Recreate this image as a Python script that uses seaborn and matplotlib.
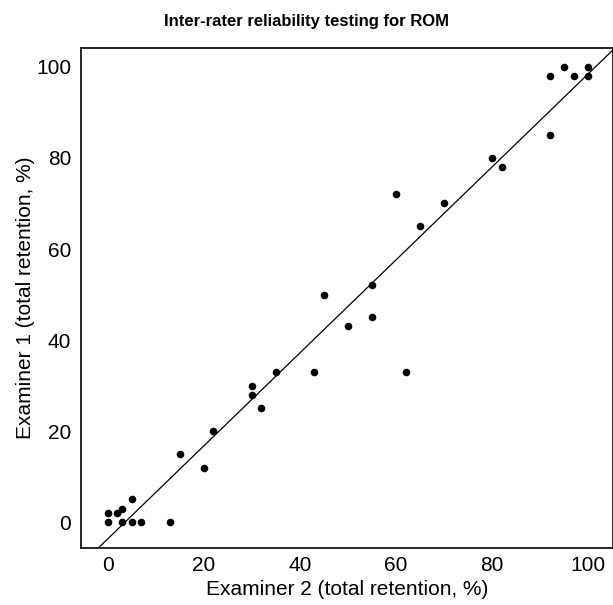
import numpy as np
import pandas as pd
import matplotlib
matplotlib.use("Agg")
import matplotlib.pyplot as plt
import seaborn as sns

# Values (Examiner 2 on x, Examiner 1 on y)
examiner2 = [0, 0, 2, 3, 5, 3, 5, 7, 13,
             15, 20, 22,
             30, 30, 32, 35, 43, 45, 50, 55, 55, 62,
             60, 65, 70, 80, 82,
             92, 95, 97, 100, 100, 92]
examiner1 = [2, 0, 2, 3, 5, 0, 0, 0, 0,
             15, 12, 20,
             30, 28, 25, 33, 33, 50, 43, 52, 45, 33,
             72, 65, 70, 80, 78,
             98, 100, 98, 100, 98, 85]

df = pd.DataFrame({"ex2": examiner2, "ex1": examiner1})

sns.set_theme(style="white")
plt.rcParams["font.family"] = ["Liberation Sans", "DejaVu Sans"]
plt.rcParams["text.color"] = "black"
plt.rcParams["axes.labelcolor"] = "black"
plt.rcParams["xtick.color"] = "black"
plt.rcParams["ytick.color"] = "black"

fig = plt.figure(figsize=(6.13, 6.05), dpi=100)
ax = fig.add_axes([0.132, 0.094, 0.868, 0.827])

ax.set_xlim(-5.6, 105.2)
ax.set_ylim(-5.7, 104.2)

sns.regplot(data=df, x="ex2", y="ex1", ax=ax, ci=None, truncate=False,
            scatter_kws={"s": 30, "color": "black", "linewidths": 0, "alpha": 1},
            line_kws={"color": "black", "linewidth": 0.9})

ax.set_xlim(-5.6, 105.2)
ax.set_ylim(-5.7, 104.2)
ax.set_xticks([0, 20, 40, 60, 80, 100])
ax.set_yticks([0, 20, 40, 60, 80, 100])
ax.tick_params(labelsize=15, length=0)
ax.tick_params(axis="x", pad=6)
ax.tick_params(axis="y", pad=7)

ax.set_xlabel("Examiner 2 (total retention, %)", fontsize=15, labelpad=3)
ax.set_ylabel("Examiner 1 (total retention, %)", fontsize=15, labelpad=1)
# title is centred on the figure, not on the axes
fig.text(0.5, 0.965, "Inter-rater reliability testing for ROM", fontsize=12,
         fontweight="bold", ha="center", va="center")

for spine in ax.spines.values():
    spine.set_color("black")
    spine.set_linewidth(1.2)

fig.savefig("out.png", dpi=100)
